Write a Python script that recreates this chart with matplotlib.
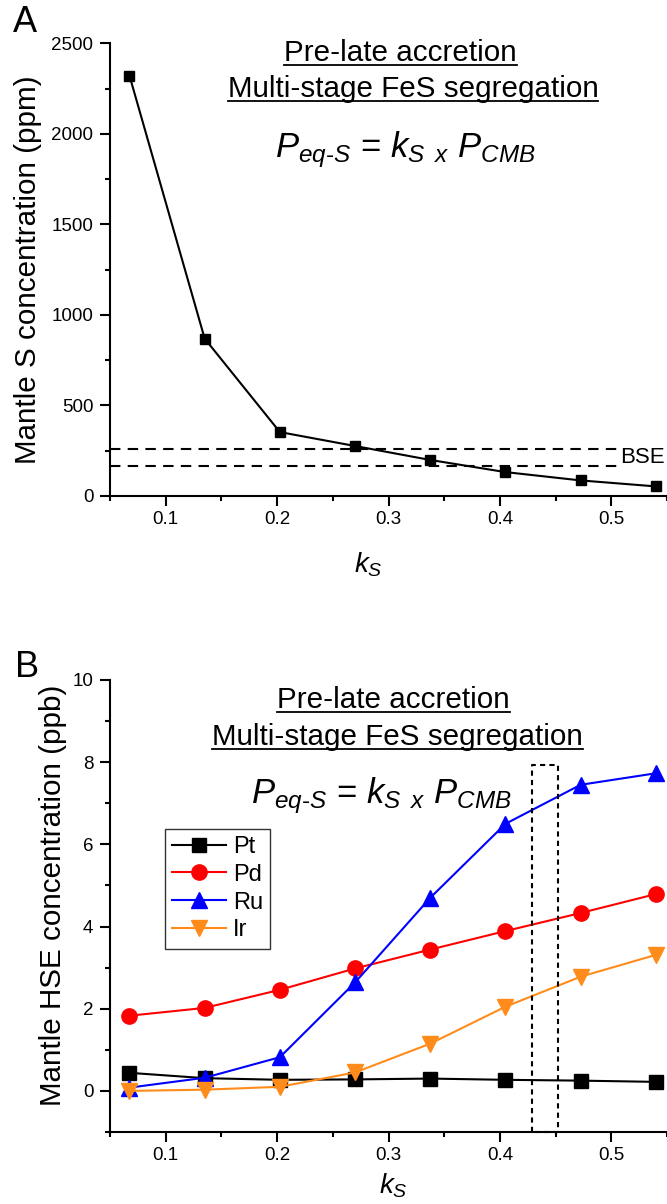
import matplotlib
matplotlib.use('Agg')
from matplotlib import pyplot as plt
from matplotlib.ticker import MultipleLocator
from matplotlib.lines import Line2D

plt.rcParams['font.family'] = ['Liberation Sans', 'DejaVu Sans']
plt.rcParams['mathtext.fontset'] = 'custom'
plt.rcParams['mathtext.it'] = 'Liberation Sans:italic'
plt.rcParams['mathtext.rm'] = 'Liberation Sans'
plt.rcParams['mathtext.cal'] = 'Liberation Sans:italic'

# k_S values shared by both panels
ks = [0.0675, 0.135, 0.2025, 0.27, 0.3375, 0.405, 0.4725, 0.54]

# panel A: mantle S (ppm)
sulfur = [2321, 869, 353, 276, 199, 132, 86, 53]
bse_levels = [261, 166]

# panel B: mantle HSE (ppb)
pt = [0.44, 0.31, 0.27, 0.28, 0.30, 0.27, 0.25, 0.22]
pd = [1.83, 2.02, 2.46, 2.98, 3.44, 3.89, 4.33, 4.79]
ru = [0.08, 0.32, 0.82, 2.64, 4.70, 6.50, 7.45, 7.73]
ir = [0.00, 0.03, 0.10, 0.45, 1.15, 2.05, 2.78, 3.31]
box_x = [0.429, 0.452]
box_top = 7.92

W, H = 667, 1204
fig = plt.figure(figsize=(W / 100, H / 100), dpi=100)
axA = fig.add_axes([110 / W, 1 - 496 / H, 557 / W, 452.7 / H])
axB = fig.add_axes([110 / W, 1 - 1132 / H, 557 / W, 452 / H])


def style_axes(ax):
    for s in ['top', 'right']:
        ax.spines[s].set_visible(False)
    for s in ['left', 'bottom']:
        ax.spines[s].set_linewidth(1.5)
    ax.set_xlim(0.05, 0.55)
    ax.xaxis.set_major_locator(MultipleLocator(0.1))
    ax.xaxis.set_minor_locator(MultipleLocator(0.05))
    ax.tick_params(which='major', direction='out', length=7, width=1.5,
                   labelsize=13.5, pad=4)
    ax.tick_params(which='minor', direction='out', length=3.5, width=1.5)
    ax.tick_params(axis='y', which='major', pad=5)


def header(ax, base1, base2, cx1, cx2, eq_base, eq_x):
    t1 = ax.text(cx1, base1, 'Pre-late accretion', transform=ax.transAxes,
                 ha='center', va='baseline', fontsize=21.3)
    t2 = ax.text(cx2, base2, 'Multi-stage FeS segregation', transform=ax.transAxes,
                 ha='center', va='baseline', fontsize=21.3)
    ax.text(eq_x, eq_base, r'$P_{eq\text{-}S}$ = $k_S$ $_{\mathit{x}}$ $P_{CMB}$',
            transform=ax.transAxes, ha='center', va='baseline', fontsize=25)
    return [(t1, base1), (t2, base2)]


# ---- panel A ----
style_axes(axA)
axA.plot(ks, sulfur, color='black', lw=1.5, marker='s', ms=7.5)
for lev in bse_levels:
    axA.plot([0.05, 0.505], [lev, lev], color='black', lw=1.5, dashes=(5, 3.5))
axA.text(0.508, sum(bse_levels) / 2, 'BSE', fontsize=16, ha='left', va='center')
axA.set_ylim(0, 2500)
axA.yaxis.set_major_locator(MultipleLocator(500))
axA.yaxis.set_minor_locator(MultipleLocator(250))
axA.set_ylabel('Mantle S concentration (ppm)', fontsize=21.3)
axA.yaxis.set_label_coords(-0.122, 0.5)
axA.set_xlabel(r'$k_S$', fontsize=20)
axA.xaxis.set_label_coords(0.463, -0.12)
underA = header(axA, 0.960, 0.881, 0.522, 0.544, 0.749, 0.530)

# ---- panel B ----
style_axes(axB)
axB.plot(ks, pt, color='black', lw=1.5, marker='s', ms=9.5, label='Pt')
axB.plot(ks, pd, color='#ff0000', lw=1.5, marker='o', ms=11, label='Pd')
axB.plot(ks, ru, color='#0000ff', lw=1.5, marker='^', ms=11.5, label='Ru')
axB.plot(ks, ir, color='#ff8c1a', lw=1.5, marker='v', ms=11.5, label='Ir')
axB.plot([box_x[0], box_x[0], box_x[1], box_x[1], box_x[0]],
         [-1, box_top, box_top, -1, -1], color='black', lw=1.5,
         dashes=(2.5, 2), clip_on=False)
axB.set_ylim(-1, 10)
axB.yaxis.set_major_locator(MultipleLocator(2))
axB.yaxis.set_minor_locator(MultipleLocator(1))
axB.set_ylabel('Mantle HSE concentration (ppb)', fontsize=21.3)
axB.yaxis.set_label_coords(-0.077, 0.524)
axB.set_xlabel(r'$k_S$', fontsize=20)
axB.xaxis.set_label_coords(0.508, -0.088)
leg = axB.legend(loc='upper left', bbox_to_anchor=(0.098, 0.671), fontsize=17,
                 frameon=True, fancybox=False, edgecolor='black',
                 handlelength=2.3, labelspacing=0.25, borderpad=0.3,
                 handletextpad=0.3, borderaxespad=0)
leg.get_frame().set_linewidth(1.0)
underB = header(axB, 0.938, 0.857, 0.509, 0.516, 0.728, 0.487)

fig.text(25 / W, 1 - 22 / H, 'A', fontsize=26, ha='center', va='center')
fig.text(27 / W, 1 - 667 / H, 'B', fontsize=26, ha='center', va='center')

# underline the header lines
fig.canvas.draw()
r = fig.canvas.get_renderer()
for ax, items in [(axA, underA), (axB, underB)]:
    for t, base in items:
        bb = t.get_window_extent(r)
        y = ax.transAxes.transform((0, base))[1] - 4
        fig.add_artist(Line2D([bb.x0 / W, bb.x1 / W], [y / H, y / H],
                              color='black', lw=1.3, transform=fig.transFigure))

fig.savefig('out.png', dpi=100)
